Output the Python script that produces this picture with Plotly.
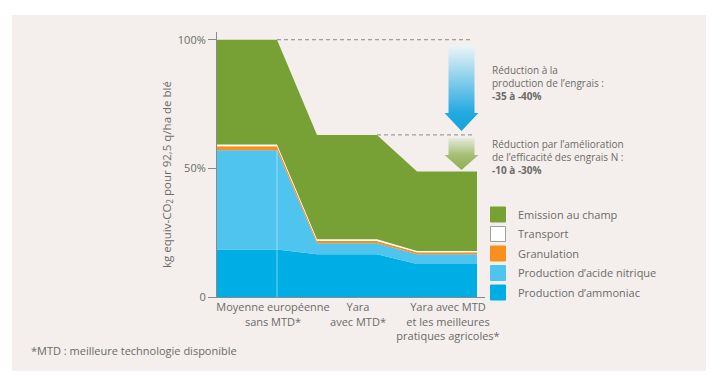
import base64
import plotly.graph_objects as go

# ---------------- data ----------------
stage_x = [0, 3, 5, 8, 10, 13]  # breakpoints of the three scenario plateaus
ammoniac = [18.5, 18.5, 16.6, 16.6, 12.8, 12.8]
acide_nitrique = [38.5, 38.5, 4.3, 4.3, 3.8, 3.8]
granulation = [1.6, 1.6, 0.9, 0.9, 0.8, 0.8]
transport = [0.7, 0.7, 0.6, 0.6, 0.5, 0.5]
emission = [40.7, 40.7, 40.6, 40.6, 30.9, 30.9]

series_names = ["Production d\u2019ammoniac", "Production d\u2019acide nitrique",
                "Granulation", "Transport", "Emission au champ"]
series_colors = ["#00aee6", "#4fc4ef", "#f7901e", "#ffffff", "#78a135"]

category_labels = ["Moyenne européenne<br>sans MTD*", "Yara<br>avec MTD*",
                   "Yara avec MTD<br>et les meilleures<br>pratiques agricoles*"]
category_label_x = [2.8, 7.05, 11.55]

y_tick_vals = [0, 50, 100]
y_tick_text = ["0", "50%", "100%"]

# ---------------- layout geometry ----------------
W, H = 723, 375
L, R, T, B = 217, 238, 32, 78
PW, PH = W - L - R, H - T - B
FONT = "Open Sans"
GREY = "#6b6b6b"


def fx(p):
    return (p - L) / PW


def fy(p):
    return (H - B - p) / PH


fig = go.Figure()

all_series = [ammoniac, acide_nitrique, granulation, transport, emission]
for name, col, vals in zip(series_names, series_colors, all_series):
    fig.add_trace(go.Scatter(
        x=stage_x, y=vals, name=name, stackgroup="one", mode="none",
        fillcolor=col, line=dict(width=0), showlegend=False, hoverinfo="skip"))

# faint vertical separator at the end of the first plateau
fig.add_trace(go.Scatter(
    x=[stage_x[1], stage_x[1]], y=[0, ammoniac[1] + acide_nitrique[1]],
    mode="lines", line=dict(color="rgba(255,255,255,0.45)", width=1),
    showlegend=False, hoverinfo="skip"))

# legend entries (top to bottom)
for name, col in zip(reversed(series_names), reversed(series_colors)):
    border = "#a0a0a0" if col == "#ffffff" else col
    fig.add_trace(go.Scatter(
        x=[None], y=[None], mode="markers", name=name, legendgroup=name,
        marker=dict(symbol="square", size=15, color=col,
                    line=dict(color=border, width=1))))

totals = [sum(v) for v in zip(*all_series)]

# dashed reference lines
fig.add_shape(type="line", xref="x", yref="y", x0=stage_x[1], x1=12.8,
              y0=totals[1], y1=totals[1],
              line=dict(color="#8a8a8a", width=1, dash="4px,3px"))
fig.add_shape(type="line", xref="x", yref="y", x0=stage_x[3], x1=12.8,
              y0=totals[3], y1=totals[3],
              line=dict(color="#8a8a8a", width=1, dash="4px,3px"))

# background panel
fig.add_shape(type="rect", xref="paper", yref="paper", layer="below",
              x0=fx(12), x1=fx(706), y0=fy(371), y1=fy(15),
              fillcolor="#f4efec", line=dict(width=0))


def arrow_svg(w, h, head_h, top, bottom, solid_head):
    sx0, sx1 = 4, w - 4
    hy = h - head_h
    svg = (
        f"<svg xmlns='http://www.w3.org/2000/svg' width='{w}' height='{h}' "
        f"viewBox='0 0 {w} {h}' preserveAspectRatio='none'>"
        "<defs><linearGradient id='g' x1='0' y1='0' x2='0' y2='1'>"
        f"<stop offset='0' stop-color='{top}'/>"
        f"<stop offset='{hy / h:.3f}' stop-color='{bottom}'/>"
        f"<stop offset='1' stop-color='{solid_head}'/>"
        "</linearGradient></defs>"
        f"<path d='M{sx0},0 H{sx1} V{hy} H{w} L{w / 2},{h} L0,{hy} H{sx0} Z' fill='url(#g)'/>"
        "</svg>")
    return "data:image/svg+xml;base64," + base64.b64encode(svg.encode()).decode()


fig.add_layout_image(dict(
    source=arrow_svg(34, 86, 18, "#eef5f7", "#22a9e0", "#15a4de"),
    xref="paper", yref="paper", x=fx(444.5), y=fy(45), sizex=34 / PW, sizey=86 / PH,
    xanchor="left", yanchor="top", sizing="stretch", layer="above"))
fig.add_layout_image(dict(
    source=arrow_svg(34, 32, 15, "#e6ebdc", "#a6bf75", "#8fae52"),
    xref="paper", yref="paper", x=fx(444.5), y=fy(138), sizex=34 / PW, sizey=32 / PH,
    xanchor="left", yanchor="top", sizing="stretch", layer="above"))

# text annotations
fig.add_annotation(
    xref="paper", yref="paper", x=fx(490), y=fy(61), xanchor="left", yanchor="top",
    align="left", showarrow=False, font=dict(family=FONT, size=10, color=GREY),
    text="Réduction à la<br>production de l\u2019engrais :<br><b>-35 à -40%</b>")
fig.add_annotation(
    xref="paper", yref="paper", x=fx(490), y=fy(135), xanchor="left", yanchor="top",
    align="left", showarrow=False, font=dict(family=FONT, size=10, color=GREY),
    text="Réduction par l\u2019amélioration<br>de l\u2019efficacité des engrais N :<br><b>-10 à -30%</b>")
fig.add_annotation(
    xref="paper", yref="paper", x=fx(29), y=fy(350), xanchor="left", yanchor="middle",
    showarrow=False, font=dict(family=FONT, size=11, color=GREY),
    text="*MTD : meilleure technologie disponible")
# y axis title
fig.add_annotation(
    xref="paper", yref="paper", x=fx(167), y=fy(175), xanchor="center", yanchor="middle",
    textangle=-90, showarrow=False, font=dict(family=FONT, size=11.5, color=GREY),
    text="kg equiv-CO<sub>2</sub> pour 92,5 q/ha de blé")

fig.update_xaxes(
    range=[0, 13.4], tickvals=category_label_x, ticktext=category_labels,
    tickangle=0, automargin=False,
    showgrid=False, zeroline=False, showline=True, linecolor="#8a8a8a", linewidth=1,
    ticks="", tickfont=dict(family=FONT, size=11, color=GREY))
fig.update_yaxes(
    range=[0, 103], tickvals=y_tick_vals, ticktext=y_tick_text, automargin=False,
    showgrid=False, zeroline=False, showline=True, linecolor="#8a8a8a", linewidth=1,
    ticks="outside", ticklen=8, tickcolor="#8a8a8a",
    tickfont=dict(family=FONT, size=11, color=GREY))

fig.update_layout(
    width=W, height=H, margin=dict(l=L, r=R, t=T, b=B, autoexpand=False),
    paper_bgcolor="#ffffff", plot_bgcolor="rgba(0,0,0,0)",
    showlegend=True,
    legend=dict(x=fx(478), y=fy(200), xanchor="left", yanchor="top",
                bgcolor="rgba(0,0,0,0)", tracegroupgap=0.5, itemsizing="trace",
                font=dict(family=FONT, size=11, color=GREY)),
    font=dict(family=FONT, color=GREY))

fig.write_html("out.html", config={"displayModeBar": False},
               post_script="document.body.style.margin='0';")
